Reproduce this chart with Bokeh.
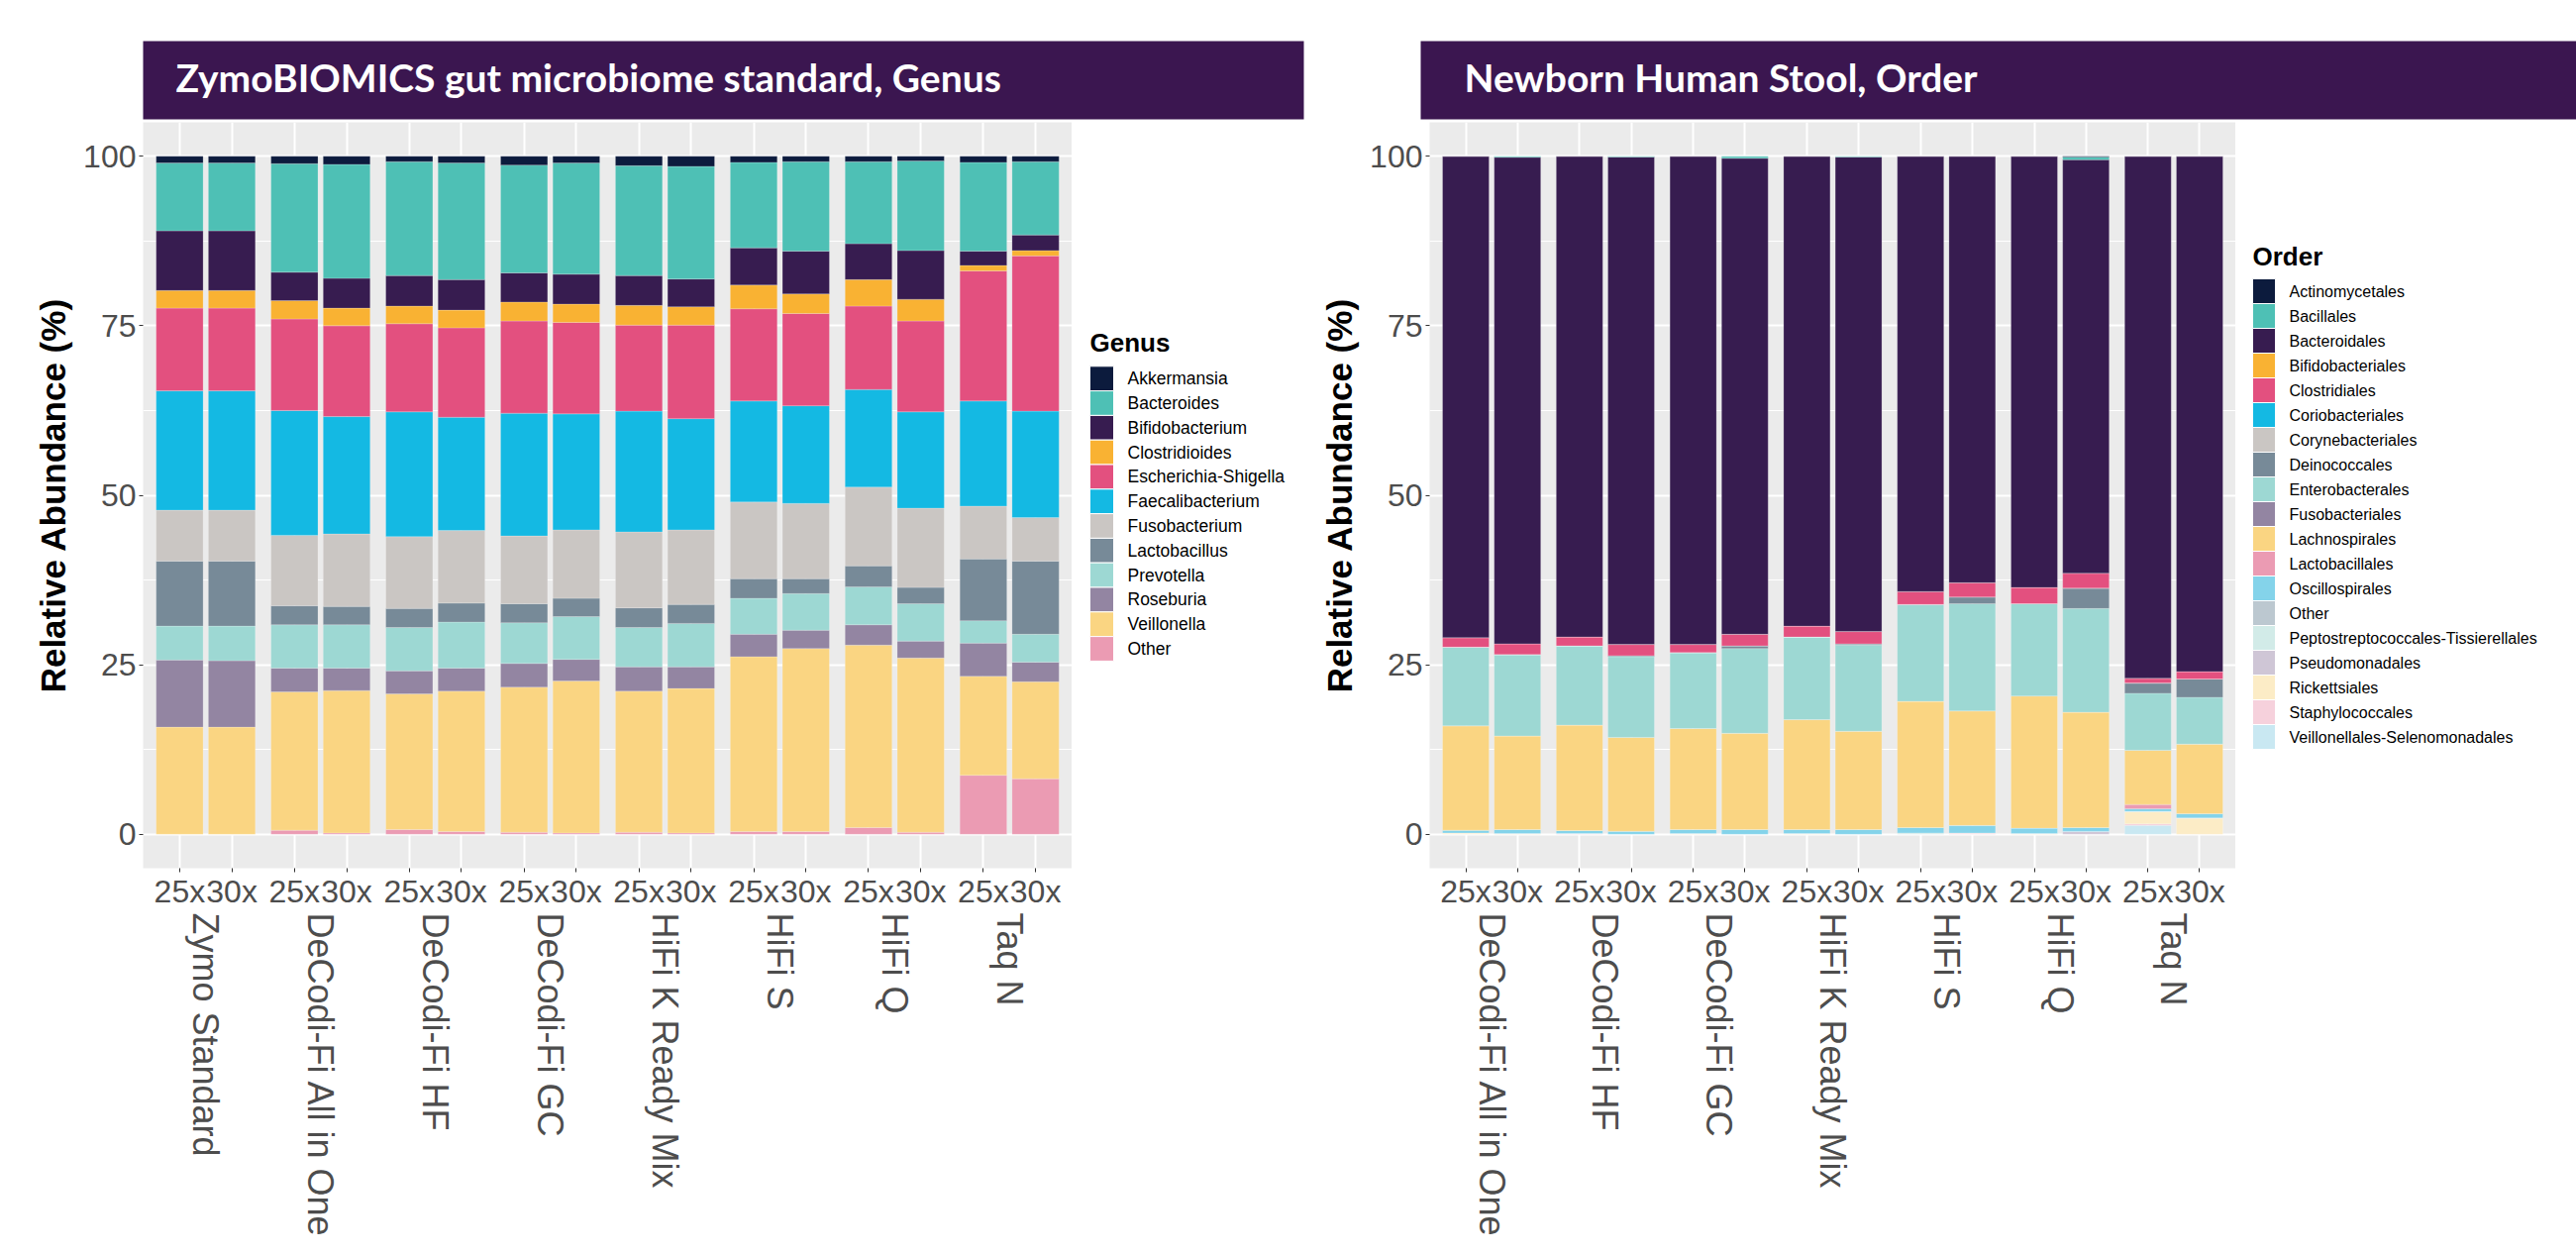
from bokeh.plotting import figure
from bokeh.models import (ColumnDataSource, FactorRange, Range1d, FixedTicker,
                          BoxAnnotation, Label)
from bokeh.core.properties import value
from bokeh.layouts import row, column
from bokeh.embed import file_html
from bokeh.resources import INLINE

# ---------------- data ----------------
depths = ["25x", "30x"]
genus_methods = ["Zymo Standard", "DeCodi-Fi All in One", "DeCodi-Fi HF", "DeCodi-Fi GC",
                 "HiFi K Ready Mix", "HiFi S", "HiFi Q", "Taq N"]
order_methods = ["DeCodi-Fi All in One", "DeCodi-Fi HF", "DeCodi-Fi GC",
                 "HiFi K Ready Mix", "HiFi S", "HiFi Q", "Taq N"]

genus_names = ["Akkermansia", "Bacteroides", "Bifidobacterium", "Clostridioides",
               "Escherichia-Shigella", "Faecalibacterium", "Fusobacterium", "Lactobacillus",
               "Prevotella", "Roseburia", "Veillonella", "Other"]
genus_colors = ["#0c1b3d", "#4ec0b5", "#371c50", "#f9b233", "#e3507f", "#14b9e3",
                "#cac6c3", "#778a98", "#9dd8d3", "#9385a2", "#fad582", "#eb9bb3"]

# bars: Zymo 25x,30x | DeCodi AIO 25x,30x | DeCodi HF | DeCodi GC | HiFi K | HiFi S | HiFi Q | Taq N
akkermansia      = [1.0, 1.0, 1.1, 1.2, 0.8, 1.0, 1.3, 1.0, 1.4, 1.5, 0.9, 0.8, 0.8, 0.7, 0.9, 0.8]
bacteroides      = [10.0, 10.0, 16.0, 16.8, 16.8, 17.2, 15.9, 16.4, 16.2, 16.6, 12.6, 13.2, 12.1, 13.2, 13.1, 10.8]
bifidobacterium  = [8.8, 8.8, 4.2, 4.4, 4.5, 4.5, 4.3, 4.4, 4.4, 4.1, 5.5, 6.3, 5.3, 7.2, 2.1, 2.3]
clostridioides   = [2.6, 2.6, 2.7, 2.6, 2.6, 2.6, 2.8, 2.7, 2.9, 2.7, 3.5, 2.9, 3.9, 3.2, 0.8, 0.8]
escherichia      = [12.2, 12.2, 13.5, 13.4, 13.0, 13.2, 13.6, 13.5, 12.7, 13.8, 13.6, 13.6, 12.3, 13.4, 19.2, 22.9]
faecalibacterium = [17.6, 17.6, 18.4, 17.3, 18.4, 16.7, 18.1, 17.1, 17.8, 16.4, 14.9, 14.4, 14.4, 14.2, 15.5, 15.7]
fusobacterium    = [7.5, 7.5, 10.4, 10.7, 10.6, 10.7, 10.0, 10.1, 11.2, 11.0, 11.3, 11.1, 11.6, 11.7, 7.8, 6.4]
lactobacillus    = [9.6, 9.6, 2.8, 2.7, 2.8, 2.8, 2.8, 2.7, 2.9, 2.8, 2.9, 2.2, 3.1, 2.4, 9.1, 10.8]
prevotella       = [5.0, 5.1, 6.4, 6.4, 6.4, 6.8, 6.0, 6.3, 5.8, 6.4, 5.3, 5.4, 5.6, 5.5, 3.3, 4.1]
roseburia        = [9.9, 9.8, 3.5, 3.3, 3.4, 3.4, 3.5, 3.2, 3.6, 3.2, 3.3, 2.7, 3.0, 2.5, 4.9, 2.9]
veillonella      = [15.8, 15.8, 20.4, 21.0, 20.0, 20.7, 21.4, 22.4, 20.8, 21.3, 25.8, 27.0, 26.9, 25.7, 14.6, 14.3]
other_genus      = [0.0, 0.0, 0.6, 0.2, 0.7, 0.4, 0.3, 0.2, 0.3, 0.2, 0.4, 0.4, 1.0, 0.3, 8.7, 8.2]

order_names = ["Actinomycetales", "Bacillales", "Bacteroidales", "Bifidobacteriales",
               "Clostridiales", "Coriobacteriales", "Corynebacteriales", "Deinococcales",
               "Enterobacterales", "Fusobacteriales", "Lachnospirales", "Lactobacillales",
               "Oscillospirales", "Other", "Peptostreptococcales-Tissierellales",
               "Pseudomonadales", "Rickettsiales", "Staphylococcales",
               "Veillonellales-Selenomonadales"]
order_colors = ["#0c1b3d", "#4ec0b5", "#371c50", "#f9b233", "#e3507f", "#14b9e3",
                "#cac6c3", "#778a98", "#9dd8d3", "#9385a2", "#fad582", "#eb9bb3",
                "#84d3ea", "#bcc8d0", "#d2ebe8", "#cfc6d6", "#fcecc6", "#f6d1dc", "#c9e8f2"]

# bars: DeCodi AIO 25x,30x | DeCodi HF | DeCodi GC | HiFi K | HiFi S | HiFi Q | Taq N
actinomycetales   = [0, 0, 0, 0, 0, 0, 0, 0, 0, 0, 0, 0.1, 0, 0]
bacillales        = [0, 0.15, 0, 0.1, 0, 0.3, 0, 0.1, 0, 0, 0, 0.4, 0, 0]
bacteroidales     = [71.0, 71.75, 70.9, 71.9, 72.0, 70.2, 69.3, 70.0, 64.2, 62.9, 63.6, 61.0, 77.0, 76.0]
bifidobacteriales = [0] * 14
clostridiales     = [1.4, 1.6, 1.3, 1.65, 1.2, 1.7, 1.6, 1.8, 1.9, 2.1, 2.4, 2.2, 0.7, 1.1]
coriobacteriales  = [0] * 14
corynebacteriales = [0] * 14
deinococcales     = [0, 0, 0, 0.15, 0, 0.4, 0, 0.2, 0, 1.0, 0, 3.0, 1.5, 2.7]
enterobacterales  = [11.6, 12.0, 11.7, 11.9, 11.2, 12.5, 12.2, 12.7, 14.3, 15.8, 13.6, 15.3, 8.4, 6.9]
fusobacteriales   = [0] * 14
lachnospirales    = [15.4, 13.8, 15.55, 13.85, 14.9, 14.2, 16.2, 14.5, 18.6, 16.9, 19.5, 17.0, 8.0, 10.25]
lactobacillales   = [0, 0, 0, 0, 0, 0, 0, 0, 0, 0, 0, 0, 0.65, 0]
oscillospirales   = [0.4, 0.6, 0.45, 0.45, 0.6, 0.7, 0.6, 0.7, 0.8, 1.1, 0.8, 0.6, 0.4, 0.65]
other_order       = [0] * 14
peptostrep        = [0, 0, 0, 0, 0, 0, 0, 0, 0.2, 0, 0, 0, 0, 0]
pseudomonadales   = [0, 0, 0, 0, 0, 0, 0, 0, 0, 0, 0, 0.4, 0, 0]
rickettsiales     = [0.2, 0.1, 0, 0, 0.1, 0, 0.1, 0, 0, 0, 0.1, 0, 1.8, 2.4]
staphylococcales  = [0, 0, 0.1, 0, 0, 0, 0, 0, 0, 0.2, 0, 0, 0.25, 0]
veillonellales    = [0, 0, 0, 0, 0, 0, 0, 0, 0, 0, 0, 0, 1.3, 0]

genus_values = dict(zip(genus_names, [akkermansia, bacteroides, bifidobacterium, clostridioides,
                                      escherichia, faecalibacterium, fusobacterium, lactobacillus,
                                      prevotella, roseburia, veillonella, other_genus]))
order_values = dict(zip(order_names, [actinomycetales, bacillales, bacteroidales, bifidobacteriales,
                                      clostridiales, coriobacteriales, corynebacteriales, deinococcales,
                                      enterobacterales, fusobacteriales, lachnospirales, lactobacillales,
                                      oscillospirales, other_order, peptostrep, pseudomonadales,
                                      rickettsiales, staphylococcales, veillonellales]))

titles = ["ZymoBIOMICS gut microbiome standard, Genus", "Newborn Human Stool, Order"]

BANNER = "#3b1650"
AX_FONT = "Liberation Sans"
TOP = 123              # height of the banner strip
BODY_H = 1267 - TOP    # height of the chart row
FRAME_H = 753          # plotting panel height
BOTTOM = BODY_H - FRAME_H


def make_panel(methods, names, colors, values, width, border_left):
    factors = [(m, d) for m in methods for d in depths]
    x_range = FactorRange(*factors, group_padding=0.2, factor_padding=0.0,
                          range_padding=0.2, range_padding_units="absolute")
    p = figure(width=width, height=BODY_H, x_range=x_range, y_range=Range1d(-5, 105),
               output_backend="svg", toolbar_location=None,
               min_border_left=border_left, min_border_right=0,
               min_border_top=0, min_border_bottom=BOTTOM)
    p.background_fill_color = "#ebebeb"
    p.border_fill_color = "white"
    p.outline_line_color = None

    data = {"x": factors}
    for n in names:
        data[n] = values[n]
    src = ColumnDataSource(data)
    p.vbar_stack(names[::-1], x="x", width=0.9, source=src,
                 fill_color=colors[::-1], line_color="white",
                 line_alpha=0.35, line_width=0.6)

    yt = FixedTicker(ticks=[0, 25, 50, 75, 100], minor_ticks=[12.5, 37.5, 62.5, 87.5])
    p.yaxis.ticker = yt
    p.ygrid.ticker = yt
    p.ygrid.grid_line_color = "white"
    p.ygrid.grid_line_width = 2
    p.ygrid.minor_grid_line_color = "white"
    p.ygrid.minor_grid_line_width = 1
    p.xgrid.grid_line_color = "white"
    p.xgrid.grid_line_width = 2

    ya = p.yaxis[0]
    ya.axis_label = "Relative Abundance (%)"
    ya.axis_label_text_font = AX_FONT
    ya.axis_label_text_font_size = "35px"
    ya.axis_label_text_font_style = "bold"
    ya.axis_label_text_color = "black"
    ya.axis_label_standoff = 8
    ya.major_label_text_font = AX_FONT
    ya.major_label_text_font_size = "32px"
    ya.major_label_text_color = "#4d4d4d"
    ya.axis_line_color = None
    ya.major_tick_line_color = "#333333"
    ya.major_tick_in = 0
    ya.major_tick_out = 4
    ya.minor_tick_line_color = None
    ya.major_label_standoff = 3

    xa = p.xaxis[0]
    xa.major_label_text_font = AX_FONT
    xa.major_label_text_font_size = "32px"
    xa.major_label_text_color = "#4d4d4d"
    xa.major_label_standoff = 1
    xa.group_text_font = AX_FONT
    xa.group_text_font_size = "36px"
    xa.group_text_font_style = "normal"
    xa.group_text_color = "#4d4d4d"
    xa.group_label_orientation = "vertical"
    xa.separator_line_color = None
    xa.axis_line_color = None
    xa.major_tick_line_color = "#333333"
    xa.major_tick_in = 0
    xa.major_tick_out = 4
    return p


def make_legend(names, colors, title, width, key_x, key_w, text_x, key_top, pitch,
                title_base, font_px):
    # decoration figure in pixel coordinates (y grows downward), frame = 0..FRAME_H
    lf = figure(width=width, height=BODY_H, x_range=Range1d(0, width),
                y_range=Range1d(FRAME_H, 0),
                x_axis_location=None, y_axis_location=None, output_backend="svg",
                toolbar_location=None, min_border_left=0, min_border_right=0,
                min_border_top=0, min_border_bottom=BOTTOM)
    lf.grid.visible = False
    lf.outline_line_color = None
    lf.background_fill_color = "white"
    lf.border_fill_color = "white"
    ys = [key_top + pitch * (i + 0.5) for i in range(len(names))]
    src = ColumnDataSource(dict(y=ys, name=names, color=colors))
    lf.rect(x=key_x + key_w / 2, y="y", width=key_w, height=pitch, fill_color="color",
            line_color="white", line_width=1, source=src)
    lf.text(x=text_x, y="y", text="name", source=src, text_font=value(AX_FONT),
            text_font_size=value(font_px), text_color="black",
            text_baseline="middle", text_align="left")
    lf.text(x=[key_x], y=[title_base], text=[title], text_font=value(AX_FONT),
            text_font_size=value("26px"), text_font_style="bold", text_color="black",
            text_baseline="alphabetic", text_align="left")
    return lf


# banner strip (decoration only)
banner = figure(width=2601, height=TOP, x_range=Range1d(0, 2601), y_range=Range1d(0, TOP),
                x_axis_location=None, y_axis_location=None, output_backend="svg",
                toolbar_location=None, min_border=0)
banner.grid.visible = False
banner.outline_line_color = None
banner.background_fill_color = "white"
banner.border_fill_color = "white"
for (l, r, tx), t in zip([(144, 1316, 177), (1434, 2601, 1478)], titles):
    banner.add_layout(BoxAnnotation(left=l, right=r, bottom=TOP - 120, top=TOP - 41,
                                    fill_color=BANNER, fill_alpha=1.0, line_color=None))
    banner.add_layout(Label(x=tx, y=TOP - 77, text=t, text_color="white",
                            text_font="Lato", text_font_style="bold", text_font_size="39px",
                            text_baseline="alphabetic", text_align="left"))

p1 = make_panel(genus_methods, genus_names, genus_colors, genus_values, width=1082, border_left=144)
l1 = make_legend(genus_names, genus_colors, "Genus", width=248, key_x=18, key_w=24, text_x=56,
                 key_top=246.3, pitch=24.8, title_base=222, font_px="17.5px")
p2 = make_panel(order_methods, order_names, order_colors, order_values, width=927, border_left=106)
l2 = make_legend(order_names, order_colors, "Order", width=344, key_x=17, key_w=23, text_x=54,
                 key_top=158, pitch=25, title_base=135, font_px="16px")

layout = column(banner, row(p1, l1, p2, l2))
open("out.html", "w").write(file_html(layout, INLINE))
